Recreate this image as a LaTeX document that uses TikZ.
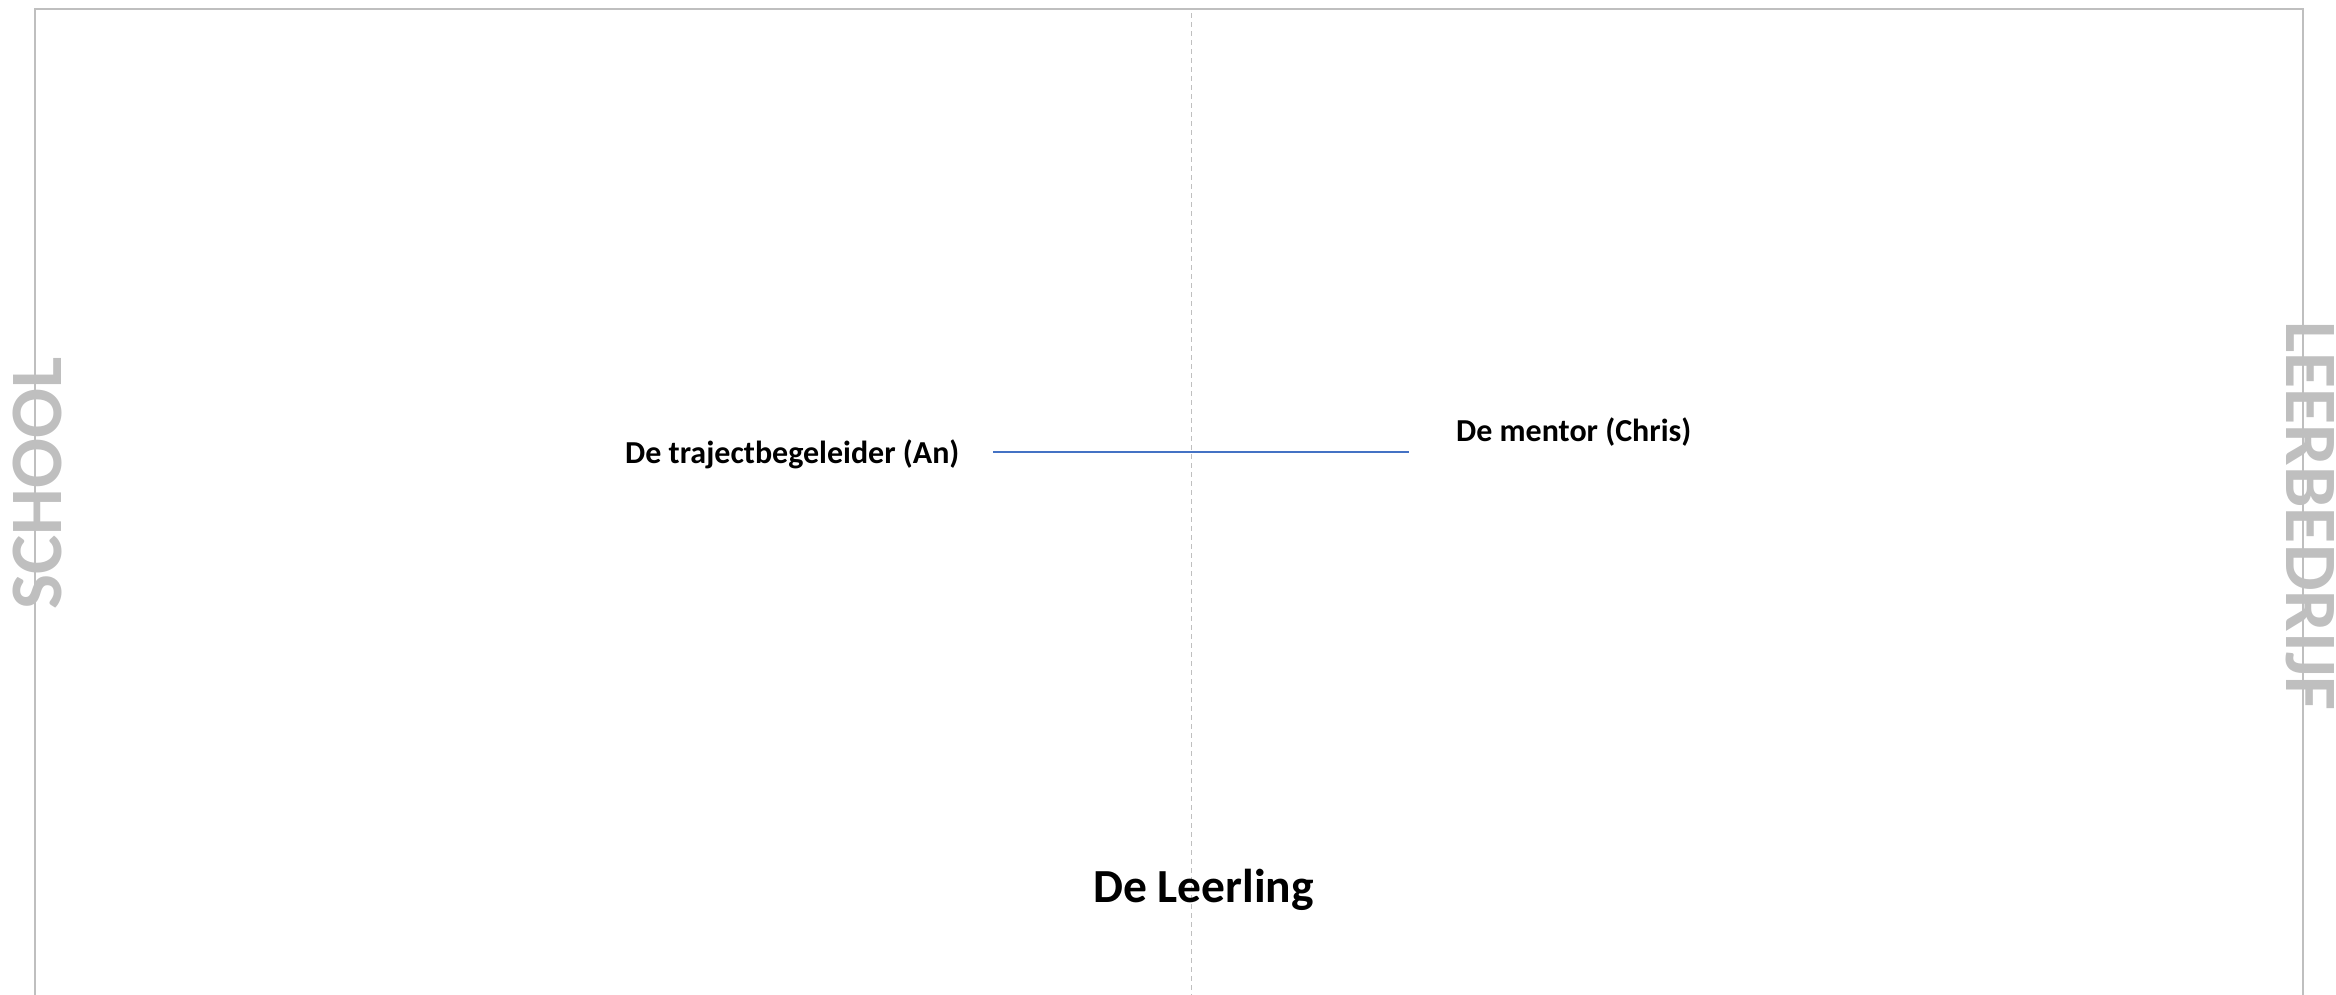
\documentclass[tikz,border=0pt]{standalone}
\usepackage{fontspec}
\setmainfont{Carlito}
\definecolor{lightgrey}{HTML}{BFBFBF}
\definecolor{officeblue}{HTML}{4472C4}
\tikzset{>=latex}
\tikzset{side/.style={text=lightgrey,inner sep=0,font=\bfseries\fontsize{74}{80}\selectfont},
  person/.style={inner sep=0,anchor=base west,font=\bfseries\fontsize{32}{38}\selectfont}}

\begin{document}
\begin{tikzpicture}[x=1pt,y=-1pt]
\useasboundingbox (0,0) rectangle (2336,994);
% frame and middle line
\coordinate (BL) at (34.5,1000);
\coordinate (TL) at (34.5,9);
\coordinate (TR) at (2303,9);
\coordinate (BR) at (2303,1000);
\coordinate (MT) at (1191,13);
\coordinate (MB) at (1191,1000);
\draw [lightgrey,line width=2pt] (BL) -- (TL) -- (TR) -- (BR);
\draw [lightgrey,line width=1pt,dash pattern=on 5pt off 4pt] (MT) -- (MB);

\node [side,rotate=90,anchor=base west] (school) at (61,610) {SCHOOL};
\node [side,rotate=-90,anchor=base west] (bedrijf) at (2286,321) {LEERBEDRIJF};

\begin{scope}[every node/.style={person}]
\node (An) at (625,463) {De trajectbegeleider (An)};
\node (Chris) at (1456,441) {De mentor (Chris)};
\node [font=\bfseries\fontsize{47.5}{56}\selectfont] (leerling) at (1093,902) {De Leerling};
\end{scope}

\coordinate (lineL) at (993,452);
\coordinate (lineR) at (1409,452);
\draw [officeblue,line width=2.7pt] (lineL) -- (lineR);
\end{tikzpicture}
\end{document}
